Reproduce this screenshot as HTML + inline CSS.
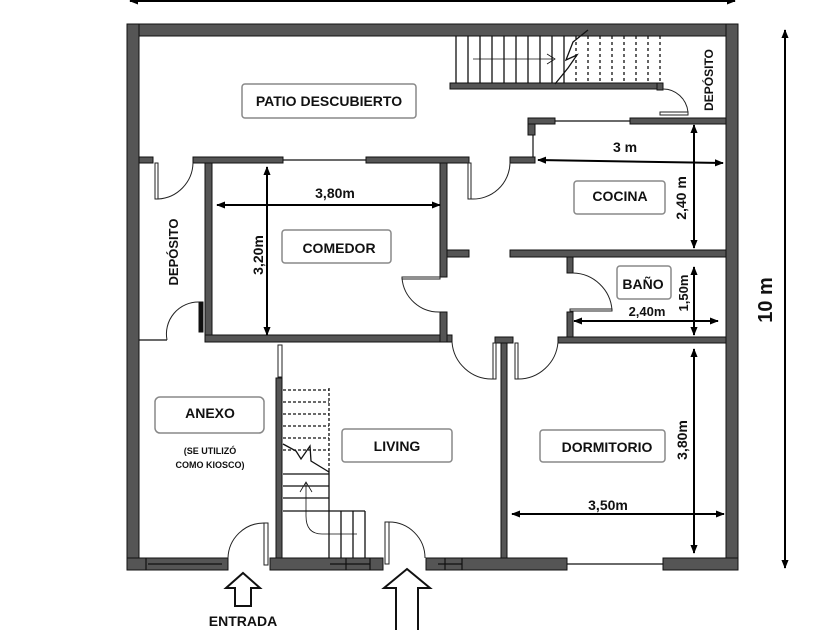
<!DOCTYPE html>
<html><head><meta charset="utf-8"><style>
html,body{margin:0;padding:0;background:#fff;width:840px;height:630px;overflow:hidden}
svg{display:block}
text{font-family:"Liberation Sans",sans-serif;font-weight:bold;fill:#111}
</style></head><body>
<svg width="840" height="630" viewBox="0 0 840 630" xmlns="http://www.w3.org/2000/svg">
<defs>
<marker id="ah" viewBox="0 0 10 10" refX="9" refY="5" markerWidth="9" markerHeight="9" markerUnits="userSpaceOnUse" orient="auto-start-reverse"><path d="M0,1 L10,5 L0,9 z" fill="#000"/></marker>
</defs>
<g fill="#555" stroke="#111" stroke-width="1">
<!-- outer walls -->
<rect x="127" y="24" width="611" height="12"/>
<rect x="127" y="24" width="12" height="546"/>
<rect x="726" y="24" width="12" height="546"/>
<rect x="127" y="558" width="101" height="12"/>
<rect x="270" y="558" width="113" height="12"/>
<rect x="426" y="558" width="141" height="12"/>
<rect x="663" y="558" width="75" height="12"/>
<!-- patio horizontal -->
<rect x="139" y="157" width="14" height="6"/>
<rect x="193" y="157" width="90" height="6"/>
<rect x="366" y="157" width="103" height="6"/>
<!-- comedor -->
<rect x="205" y="163" width="7" height="179"/>
<rect x="205" y="335" width="247" height="7"/>
<rect x="440" y="163" width="7" height="114"/>
<rect x="440" y="312" width="7" height="30"/>
<rect x="447" y="250" width="22" height="7"/>
<!-- depósito left bar -->
<rect x="199" y="302" width="4" height="30" fill="#111"/>
<!-- stairs wall top -->
<rect x="450" y="83" width="213" height="6"/>
<rect x="657" y="83" width="6" height="7"/>
<!-- kitchen -->
<rect x="510" y="157" width="25" height="6"/>
<rect x="528" y="118" width="7" height="17"/>
<rect x="528" y="118" width="27" height="6"/>
<rect x="630" y="118" width="96" height="6"/>
<rect x="510" y="250" width="216" height="7"/>
<!-- baño -->
<rect x="567" y="257" width="6" height="16"/>
<rect x="567" y="312" width="6" height="28"/>
<rect x="558" y="337" width="168" height="6"/>
<!-- middle vertical -->
<rect x="501" y="340" width="6" height="218"/>
<rect x="495" y="337" width="18" height="6"/>
<!-- living stair wall -->
<rect x="276" y="378" width="6" height="180"/>
</g>
<!-- thin lines (windows / openings) -->
<g stroke="#111" stroke-width="1.2" fill="none">
<line x1="283" y1="160" x2="366" y2="160"/>
<line x1="555" y1="121" x2="630" y2="121"/>
<line x1="533" y1="135" x2="533" y2="157"/>
<line x1="139" y1="340" x2="167" y2="340"/>
<line x1="567" y1="564" x2="663" y2="564"/>
<line x1="148" y1="564" x2="222" y2="564"/>
<line x1="330" y1="564" x2="370" y2="564"/>
<line x1="438" y1="564" x2="462" y2="564"/>
<line x1="445" y1="558" x2="445" y2="570"/>
<line x1="462" y1="558" x2="462" y2="570"/>
<line x1="146" y1="558" x2="146" y2="570"/>
<line x1="370" y1="558" x2="370" y2="570"/>
<line x1="346" y1="558" x2="346" y2="570"/>
</g>
<!-- doors -->
<g stroke="#222" stroke-width="1" fill="#fff">
<rect x="155" y="163" width="3" height="36"/>
<rect x="468" y="163" width="3" height="36"/>
<rect x="660" y="112" width="28" height="3"/>
<rect x="264" y="523" width="4" height="42"/>
<rect x="385" y="522" width="4" height="42"/>
<rect x="278" y="345" width="4" height="32"/>
<rect x="493" y="343" width="3" height="36"/>
<rect x="515" y="343" width="3" height="36"/>
<rect x="402" y="277" width="38" height="2"/>
<rect x="570" y="309" width="42" height="2"/>
</g>
<g stroke="#222" stroke-width="1" fill="none">
<path d="M158,199 A37,37 0 0 0 193,163"/>
<path d="M471,199 A37,37 0 0 0 510,163"/>
<path d="M663,89 A25,26 0 0 1 688,112"/>
<path d="M167,340 A32,32 0 0 1 199,302"/>
<path d="M402,278 A37,37 0 0 0 440,312"/>
<path d="M612,310 A40,40 0 0 0 573,273"/>
<path d="M228,558 A36,36 0 0 1 264,523"/>
<path d="M389,522 A36,36 0 0 1 425,558"/>
<path d="M452,342 A40,40 0 0 0 493,379"/>
<path d="M518,379 A40,40 0 0 0 558,342"/>
</g>
<!-- top stairs -->
<g stroke="#111" stroke-width="1.3">
<line x1="456" y1="36" x2="456" y2="83"/><line x1="468" y1="36" x2="468" y2="83"/>
<line x1="480" y1="36" x2="480" y2="83"/><line x1="492" y1="36" x2="492" y2="83"/>
<line x1="504" y1="36" x2="504" y2="83"/><line x1="516" y1="36" x2="516" y2="83"/>
<line x1="528" y1="36" x2="528" y2="83"/><line x1="540" y1="36" x2="540" y2="83"/>
<line x1="552" y1="36" x2="552" y2="83"/><line x1="564" y1="36" x2="564" y2="83"/>
</g>
<g stroke="#111" stroke-width="1.3" stroke-dasharray="3,3">
<line x1="576" y1="36" x2="576" y2="83"/><line x1="588" y1="36" x2="588" y2="83"/>
<line x1="600" y1="36" x2="600" y2="83"/><line x1="612" y1="36" x2="612" y2="83"/>
<line x1="624" y1="36" x2="624" y2="83"/><line x1="636" y1="36" x2="636" y2="83"/>
<line x1="648" y1="36" x2="648" y2="83"/><line x1="660" y1="36" x2="660" y2="83"/>
</g>
<g stroke="#111" stroke-width="1.3" fill="none">
<path d="M555,84 L568,68 L577,55 L566,60 L573,42 L588,30"/>
<line x1="473" y1="59" x2="553" y2="59" stroke-width="0.8"/>
<path d="M547,54 L555,59 L547,64" stroke-width="0.8"/>
</g>
<!-- living stairs -->
<g stroke="#111" stroke-width="1.3" stroke-dasharray="3,2">
<line x1="283" y1="390" x2="329" y2="390"/><line x1="283" y1="402" x2="329" y2="402"/>
<line x1="283" y1="414" x2="329" y2="414"/><line x1="283" y1="426" x2="329" y2="426"/>
<line x1="283" y1="438" x2="329" y2="438"/><line x1="283" y1="450" x2="329" y2="450"/>
<line x1="329" y1="388" x2="329" y2="470"/>
</g>
<g stroke="#111" stroke-width="1.3" fill="none">
<line x1="283" y1="474" x2="329" y2="474"/><line x1="283" y1="486" x2="329" y2="486"/>
<line x1="283" y1="498" x2="329" y2="498"/><line x1="283" y1="511" x2="365" y2="511"/>
<line x1="329" y1="470" x2="329" y2="558"/><line x1="341" y1="511" x2="341" y2="558"/>
<line x1="353" y1="511" x2="353" y2="558"/><line x1="365" y1="511" x2="365" y2="558"/>
<path d="M283,444 L296,451 L301,459 L310,446 L311,461 L329,472"/>
<path d="M357,534 L322,534 C310,534 306,526 306,516 L306,483" stroke-width="0.8"/>
<path d="M300,492 L306,482 L312,492" stroke-width="0.8"/>
</g>
<!-- dimension arrows -->
<g stroke="#000" stroke-width="2" marker-start="url(#ah)" marker-end="url(#ah)">
<line x1="130" y1="1" x2="735" y2="1"/>
<line x1="785" y1="30" x2="785" y2="568"/>
<line x1="217" y1="205" x2="440" y2="205"/>
<line x1="267" y1="167" x2="267" y2="335"/>
<line x1="538" y1="160" x2="723" y2="163"/>
<line x1="694" y1="125" x2="694" y2="248"/>
<line x1="694" y1="267" x2="694" y2="335"/>
<line x1="574" y1="321" x2="718" y2="321"/>
<line x1="694" y1="349" x2="694" y2="553"/>
<line x1="512" y1="514" x2="724" y2="514"/>
</g>
<!-- label boxes -->
<g fill="#fff" stroke="#888" stroke-width="1.5">
<rect x="242" y="84" width="174" height="34" rx="3"/>
<rect x="282" y="230" width="109" height="33" rx="3"/>
<rect x="574" y="181" width="91" height="33" rx="3"/>
<rect x="617" y="266" width="54" height="33" rx="3"/>
<rect x="155" y="397" width="109" height="36" rx="5"/>
<rect x="342" y="429" width="110" height="33" rx="3"/>
<rect x="540" y="430" width="125" height="32" rx="3"/>
</g>
<g font-size="14" text-anchor="middle">
<text x="329" y="106">PATIO DESCUBIERTO</text>
<text x="339" y="253">COMEDOR</text>
<text x="620" y="201">COCINA</text>
<text x="643" y="289">BAÑO</text>
<text x="210" y="418">ANEXO</text>
<text x="397" y="451">LIVING</text>
<text x="607" y="452">DORMITORIO</text>
<text x="335" y="198">3,80m</text>
<text x="625" y="152">3 m</text>
<text x="647" y="316" font-size="13">2,40m</text>
<text x="608" y="510">3,50m</text>
<text x="243" y="626">ENTRADA</text>
<text x="178" y="252" transform="rotate(-90 178 252)" font-size="13">DEPÓSITO</text>
<text x="713" y="80" transform="rotate(-90 713 80)" font-size="12">DEPÓSITO</text>
<text x="263" y="255" transform="rotate(-90 263 255)">3,20m</text>
<text x="686" y="198" transform="rotate(-90 686 198)">2,40 m</text>
<text x="688" y="293" transform="rotate(-90 688 293)" font-size="13">1,50m</text>
<text x="687" y="440" transform="rotate(-90 687 440)">3,80m</text>
<text x="772" y="300" transform="rotate(-90 772 300)" font-size="20">10 m</text>
</g>
<g font-size="9" text-anchor="middle">
<text x="210" y="454">(SE UTILIZÓ</text>
<text x="210" y="468">COMO KIOSCO)</text>
</g>
<!-- entrance arrows -->
<g fill="#fff" stroke="#111" stroke-width="2">
<path d="M243,573 L260,588 L251,588 L251,606 L235,606 L235,588 L226,588 Z"/>
<path d="M407,569 L430,588 L418,588 L418,632 L396,632 L396,588 L384,588 Z"/>
</g>
</svg>
</body></html>
